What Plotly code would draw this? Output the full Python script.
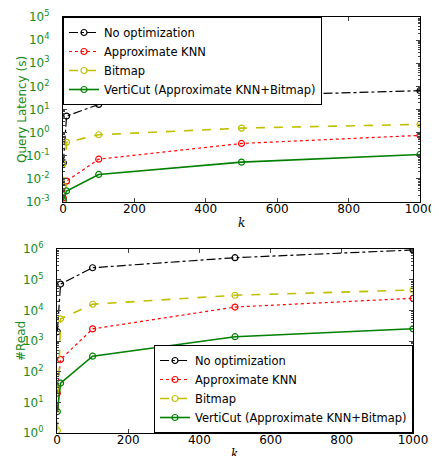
import plotly.graph_objects as go

k = [1, 10, 100, 500, 1000]
series_names = ["No optimization", "Approximate KNN", "Bitmap", "VertiCut (Approximate KNN+Bitmap)"]

lat_noopt = [0.05, 5.2, 16.6, 39, 65]
lat_aknn = [0.0015, 0.008, 0.071, 0.34, 0.76]
lat_bitmap = [0.005, 0.38, 0.81, 1.57, 2.27]
lat_verticut = [0.0012, 0.003, 0.0155, 0.053, 0.114]

read_noopt = [2000, 72000, 245000, 520000, 930000]
read_aknn = [20, 250, 2480, 12800, 24700]
read_bitmap = [1.2, 5300, 15800, 31000, 46000]
read_verticut = [5, 42, 320, 1380, 2500]

lat_exponents = [-3, -2, -1, 0, 1, 2, 3, 4, 5]
read_exponents = [0, 1, 2, 3, 4, 5, 6]
x_ticks = [0, 200, 400, 600, 800, 1000]

colors = ["black", "red", "#bfbf00", "#008000"]
dashes = ["dashdot", "dot", "dash", "solid"]
widths = [1.2, 1.2, 1.6, 1.6]

# page has an 8px body margin; figure fills the rest of the window
W, H = 431, 448
OFF = 8
def px(x): return (x - OFF) / W
def py(y): return 1 - (y - OFF) / H

fig = go.Figure()
lat = [lat_noopt, lat_aknn, lat_bitmap, lat_verticut]
reads = [read_noopt, read_aknn, read_bitmap, read_verticut]
for i in range(4):
    fig.add_trace(go.Scatter(x=k, y=lat[i], name=series_names[i], mode="lines+markers",
                             line=dict(color=colors[i], dash=dashes[i], width=widths[i]),
                             marker=dict(symbol="circle-open", size=6, color=colors[i], line=dict(width=1.2)),
                             xaxis="x", yaxis="y", legend="legend"))
for i in range(4):
    fig.add_trace(go.Scatter(x=k, y=reads[i], name=series_names[i], mode="lines+markers",
                             line=dict(color=colors[i], dash=dashes[i], width=widths[i]),
                             marker=dict(symbol="circle-open", size=6, color=colors[i], line=dict(width=1.2)),
                             xaxis="x2", yaxis="y2", legend="legend2"))

green = "#1a8a1a"
xcommon = dict(range=[0, 1000], tickvals=x_ticks, ticks="inside", ticklen=4,
               showline=True, linecolor="black", linewidth=1, mirror="ticks", showgrid=False,
               zeroline=False, tickfont=dict(size=12, color="black"), automargin=False,
               ticklabeloverflow="allow", ticklabelstandoff=-4)
ycommon = dict(type="log", ticks="inside", ticklen=4,
               showline=True, linecolor="black", linewidth=1, mirror="ticks", showgrid=False,
               zeroline=False, tickfont=dict(size=12, color=green), ticklabelstandoff=10,
               minor=dict(ticks="inside", ticklen=2, dtick="D1", showgrid=False), automargin=False,
               ticklabeloverflow="allow")

legend_common = dict(bgcolor="white", bordercolor="black", borderwidth=1,
                     font=dict(size=11.5), tracegroupgap=0, itemwidth=30)

fig.update_layout(
    width=W, height=H, margin=dict(l=0, r=0, t=0, b=0),
    paper_bgcolor="white", plot_bgcolor="white",
    font=dict(family="DejaVu Sans", size=12, color="black"),
    xaxis=dict(domain=[px(63), px(420)], anchor="y", **xcommon),
    yaxis=dict(domain=[py(202), py(17)], anchor="x", range=[-3, 5],
               tickvals=[10.0 ** e for e in lat_exponents],
               ticktext=[f"10<sup>{e}</sup>" for e in lat_exponents], **ycommon),
    xaxis2=dict(domain=[px(57), px(413)], anchor="y2", **xcommon),
    yaxis2=dict(domain=[py(433), py(249)], anchor="x2", range=[0, 6],
                tickvals=[10.0 ** e for e in read_exponents],
                ticktext=[f"10<sup>{e}</sup>" for e in read_exponents], **ycommon),
    legend=dict(x=px(63), y=py(17), xanchor="left", yanchor="top", **legend_common),
    legend2=dict(x=px(413), y=py(433), xanchor="right", yanchor="bottom", **legend_common),
    annotations=[
        dict(text="Query Latency (s)", textangle=-90, x=px(22), y=py(110), xref="paper", yref="paper",
             xanchor="center", yanchor="middle",
             showarrow=False, font=dict(size=12, color=green)),
        dict(text="#Read", textangle=-90, x=px(21), y=py(341), xref="paper", yref="paper",
             xanchor="center", yanchor="middle",
             showarrow=False, font=dict(size=12, color=green)),
        dict(text="<i>k</i>", x=px(241), y=py(223), xref="paper", yref="paper",
             xanchor="center", yanchor="middle",
             showarrow=False, font=dict(size=12, color="black", family="DejaVu Serif")),
        dict(text="<i>k</i>", x=px(235), y=py(454), xref="paper", yref="paper",
             xanchor="center", yanchor="middle",
             showarrow=False, font=dict(size=12, color="black", family="DejaVu Serif")),
    ],
)

fig.write_html("out.html")
